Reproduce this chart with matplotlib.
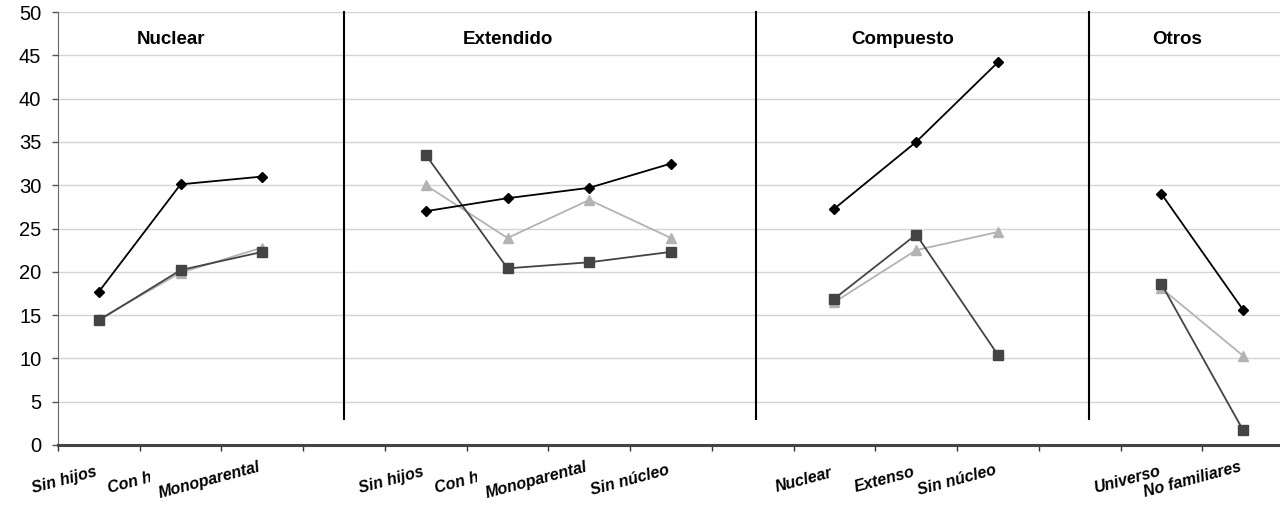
import numpy as np
import matplotlib.pyplot as plt
from matplotlib.transforms import Bbox, TransformedBbox, blended_transform_factory

plt.rcParams['font.family'] = ['Liberation Sans', 'DejaVu Sans']

# 15 slots on the x axis; empty slots separate the household groups
categories = ['Sin hijos', 'Con hijos', 'Monoparental', '',
              'Sin hijos', 'Con hijos', 'Monoparental', 'Sin núcleo', '',
              'Nuclear', 'Extenso', 'Sin núcleo', '',
              'Universo', 'No familiares']
groups = ['Nuclear', 'Extendido', 'Compuesto', 'Otros']
group_centers = [0.88, 5.01, 9.84, 13.19]
separators = [3.0, 8.04, 12.12]

nan = np.nan
serie_a = [17.7, 30.1, 31.0, nan, 27.0, 28.5, 29.7, 32.5, nan,
           27.3, 35.0, 44.2, nan, 29.0, 15.6]
serie_b = [14.4, 20.2, 22.3, nan, 33.5, 20.4, 21.1, 22.3, nan,
           16.9, 24.3, 10.4, nan, 18.6, 1.7]
serie_c = [14.5, 19.9, 22.8, nan, 30.0, 23.9, 28.3, 23.9, nan,
           16.5, 22.5, 24.6, nan, 18.1, 10.3]

fig = plt.figure(figsize=(12.8, 5.23), dpi=100)
ax = fig.add_axes([58 / 1280, 78 / 523, 1226 / 1280, 433 / 523])

x = np.arange(len(categories))
ax.plot(x, serie_c, color='#b3b3b3', lw=1.3, marker='^', ms=7.5, zorder=3)
ax.plot(x, serie_b, color='#444444', lw=1.3, marker='s', ms=6.5, zorder=4)
ax.plot(x, serie_a, color='black', lw=1.3, marker='D', ms=5.5, zorder=5)

for sx in separators:
    ax.plot([sx, sx], [3.0, 50], color='black', lw=1.5, clip_on=False, zorder=2)

for name, gx in zip(groups, group_centers):
    ax.text(gx, 46.8, name, ha='center', va='center', fontsize=13.5,
            fontweight='bold')

ax.set_xlim(-0.5, len(categories) - 0.5)
ax.set_ylim(0, 50)
ax.set_yticks(range(0, 51, 5))
ax.tick_params(axis='y', labelsize=14.5, length=4, width=1, color='#555555', pad=8)
ax.set_xticks(np.arange(-0.5, len(categories), 1.0))
ax.set_xticklabels([])
ax.tick_params(axis='x', length=4, width=1, color='#333333')
ax.yaxis.grid(True, color='#d4d4d4', lw=1)
ax.set_axisbelow(True)

for side in ['top', 'right']:
    ax.spines[side].set_visible(False)
ax.spines['left'].set_color('#666666')
ax.spines['bottom'].set_color('#444444')
ax.spines['bottom'].set_linewidth(2.2)

# rotated category labels; long ones get cut off by the next label
clip_tr = blended_transform_factory(ax.transData, fig.transFigure)
for i, lab in enumerate(categories):
    if not lab:
        continue
    t = ax.annotate(lab, xy=(i, 0), xycoords=('data', 'axes fraction'),
                    xytext=(0, -25), textcoords='offset points',
                    ha='right', va='center', rotation=15,
                    fontsize=11.5, fontweight='bold', fontstyle='italic',
                    annotation_clip=False)
    if lab == 'Con hijos':
        t.set_clip_box(TransformedBbox(Bbox([[i - 4, 0], [i - 0.37, 1]]), clip_tr))
        t.set_clip_on(True)

fig.savefig('out.png', dpi=100)
